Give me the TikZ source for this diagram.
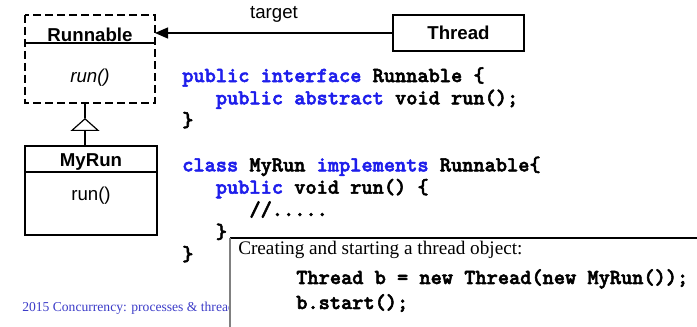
\documentclass[tikz,border=0pt]{standalone}
\usepackage{fontspec}
\setmainfont{Liberation Sans}
\newfontfamily\serifrm{Liberation Serif}
\newfontfamily\codefont{lmmonolt10-bold.otf}[FakeBold=2.5]
\usetikzlibrary{positioning, arrows.meta}
\definecolor{kwblue}{RGB}{30,30,235}
\definecolor{footblue}{RGB}{60,60,200}
\newcommand{\kw}[1]{\textcolor{kwblue}{#1}}

\begin{document}
\begin{tikzpicture}[
  x=0.75pt, y=-0.75pt,
  classname/.style={inner sep=0pt, outer sep=0pt, font=\fontsize{14}{16}\selectfont\bfseries},
  classop/.style={inner sep=0pt, outer sep=0pt, font=\fontsize{14}{16}\selectfont},
  code/.style={inner sep=0pt, align=left, font=\codefont\fontsize{16}{16.75}\selectfont},
  umlline/.style={line width=0.9pt},
  notebox/.style={inner sep=0pt, outer sep=0pt, fill=white}
]
  \useasboundingbox (0,0) rectangle (697,327);

  % interface Runnable
  \node[classname, anchor=north west, minimum width=97.5pt, minimum height=21pt,
        text height=19.8pt, text depth=1.2pt] (runhead) at (25,15) {Runnable};
  \node[classop, below=0pt of runhead, minimum width=97.5pt, minimum height=45pt,
        text height=30pt, text depth=15pt, font=\fontsize{14}{16}\selectfont\itshape] (runbody) {run()};
  \draw[line width=1.5pt, dash pattern=on 6pt off 3pt] (runhead.north west) rectangle (runbody.south east);
  \draw[umlline] (runhead.south west) -- (runhead.south east);

  % class MyRun
  \node[classname, anchor=north west, minimum width=99pt, minimum height=19.5pt,
        text height=15.3pt, text depth=4.2pt] (myhead) at (25,146) {MyRun};
  \node[classop, below=0pt of myhead, minimum width=99pt, minimum height=47.25pt,
        text height=21.75pt, text depth=25.5pt] (mybody) {run()};
  \draw[umlline] (myhead.north west) rectangle (mybody.south east);
  \draw[umlline] (myhead.south west) -- (myhead.south east);

  % class Thread
  \node[classname, draw, umlline, anchor=north west, minimum width=98.25pt, minimum height=27pt,
        text height=18.75pt, text depth=8.25pt] (thread) at (393,15) {Thread};
  \draw[umlline, -{Triangle[length=9.75pt, width=8.25pt]}] (thread.west) -- (thread.west -| runhead.east)
    node[midway, anchor=base, yshift=10.5pt, font=\fontsize{14}{16}\selectfont] (target) {target};

  % realisation
  \coordinate (apex) at ([xshift=-3.75pt, yshift=-11.25pt]runbody.south);
  \draw[umlline] (runbody.south -| apex) -- (apex);
  \draw[umlline, -{Triangle[open, length=9.75pt, width=21.75pt]}] (myhead.north -| apex) -- (apex);

  % source code
  \node[code, anchor=north west] (source) at (182,67) {%
    \kw{public interface} Runnable \{\\
    \phantom{xxx}\kw{public abstract} void run();\\
    \}\\
    \mbox{}\\
    \kw{class} MyRun \kw{implements} Runnable\{\\
    \phantom{xxx}\kw{public} void run() \{\\
    \phantom{xxxxxx}//.....\\
    \phantom{xxx}\}\\
    \}};

  % footer, partly hidden by the note
  \node[anchor=base west, inner sep=0pt, text=footblue, font=\serifrm\fontsize{10.2}{12}\selectfont] (footer) at (22,312)
    {2015 Concurrency: processes \& threads};

  % note
  \begin{scope}
    \clip (0,0) rectangle (697,327);
    \node[notebox, anchor=north west, minimum width=400pt, minimum height=80pt] (note) at (230,238) {};
    \draw[line width=0.9pt] (note.north west) -- (note.north east);
    \draw[gray, line width=1.5pt] (note.north west) -- (note.south west);
  \end{scope}
  \node[anchor=base west, inner sep=0pt, font=\serifrm\fontsize{14.4}{17}\selectfont] (creating) at (238,255)
    {Creating and starting a thread object:};
  \node[code, anchor=base west] (newthread) at (296,284) {Thread b = new Thread(new MyRun());};
  \node[code, anchor=base west] (startb) at ([yshift=-18.75pt]newthread.base west) {b.start();};
\end{tikzpicture}
\end{document}
